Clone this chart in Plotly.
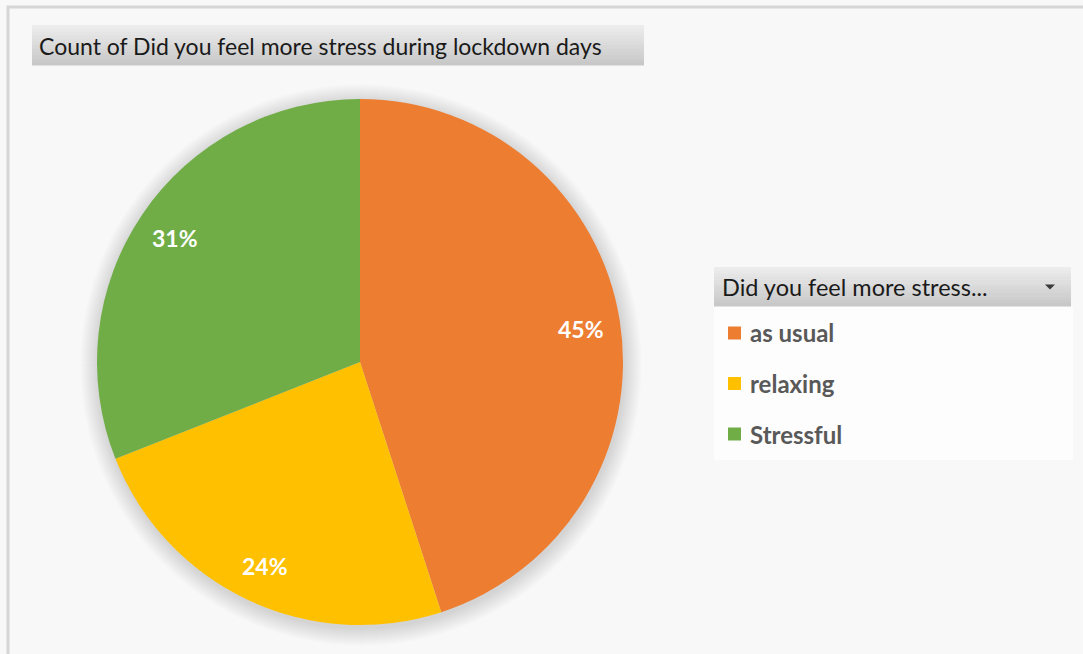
import math
import plotly.graph_objects as go

W, H = 1083, 654

# Data
categories = ["as usual", "relaxing", "Stressful"]
shares = [45, 24, 31]
colors = ["#ED7D31", "#FFC000", "#70AD47"]
chart_title = "Count of Did you feel more stress during lockdown days"
legend_title = "Did you feel more stress..."


def px(x):
    return x / W


def py(y):
    return 1 - y / H


# pie geometry in pixels
cx, cy, R = 360, 362, 263

fig = go.Figure()
fig.add_trace(go.Pie(
    labels=categories,
    values=shares,
    sort=False,
    direction="clockwise",
    rotation=0,
    marker=dict(colors=colors, line=dict(width=0)),
    textinfo="none",
    hoverinfo="label+percent",
    showlegend=False,
    domain=dict(x=[px(cx - R), px(cx + R)], y=[py(cy + R), py(cy - R)]),
))

shapes = []
annotations = []

# outer frame
shapes.append(dict(type="rect", xref="paper", yref="paper",
                   x0=px(8), x1=px(W + 5), y0=py(H + 5), y1=py(7),
                   line=dict(color="#d6d6d6", width=3), fillcolor="rgba(0,0,0,0)",
                   layer="below"))

# soft shadow around the pie
for i in range(18, 0, -1):
    r = R + i
    shapes.append(dict(type="circle", xref="paper", yref="paper",
                       x0=px(cx - r + 1), x1=px(cx + r + 1),
                       y0=py(cy + r + 3), y1=py(cy - r + 3),
                       line=dict(width=0), fillcolor="rgba(0,0,0,0.009)",
                       layer="below"))


def gradient_box(x0, x1, y0, y1, top, bottom, steps=12):
    out = []
    h = (y1 - y0) / steps
    for k in range(steps):
        t = k / (steps - 1)
        c = tuple(round(top[j] + (bottom[j] - top[j]) * t) for j in range(3))
        out.append(dict(type="rect", xref="paper", yref="paper",
                        x0=px(x0), x1=px(x1),
                        y0=py(y0 + h * (k + 1) + 0.5), y1=py(y0 + h * k),
                        line=dict(width=0), fillcolor="rgb(%d,%d,%d)" % c,
                        layer="below"))
    return out


# title bar
shapes += gradient_box(32, 644, 25, 65, (236, 236, 236), (200, 200, 200))
annotations.append(dict(text=chart_title, xref="paper", yref="paper",
                        x=px(37), y=py(46), xanchor="left", yanchor="middle",
                        showarrow=False,
                        font=dict(family="Lato", size=23, color="#1a1a1a")))

# legend panel
lx0, lx1 = 714, 1071
shapes.append(dict(type="rect", xref="paper", yref="paper",
                   x0=px(lx0), x1=px(lx1 + 2), y0=py(460), y1=py(306),
                   line=dict(width=0), fillcolor="#fdfdfd", layer="below"))
shapes += gradient_box(lx0, lx1, 267, 306, (236, 236, 236), (200, 200, 200))
annotations.append(dict(text=legend_title, xref="paper", yref="paper",
                        x=px(720), y=py(287), xanchor="left", yanchor="middle",
                        showarrow=False,
                        font=dict(family="Lato", size=23.5, color="#1a1a1a")))
# dropdown arrow
tx, ty = 1050, 287
shapes.append(dict(type="path", xref="paper", yref="paper",
                   path="M %f %f L %f %f L %f %f Z" % (px(tx - 5), py(ty - 2.5),
                                                        px(tx + 5), py(ty - 2.5),
                                                        px(tx), py(ty + 2.5)),
                   fillcolor="#3a3a3a", line=dict(width=0)))

for i, (name, col) in enumerate(zip(categories, colors)):
    yc = 333 + 50.5 * i
    shapes.append(dict(type="rect", xref="paper", yref="paper",
                       x0=px(728), x1=px(741), y0=py(yc + 6.5), y1=py(yc - 6.5),
                       line=dict(width=0), fillcolor=col))
    annotations.append(dict(text="<b>%s</b>" % name, xref="paper", yref="paper",
                            x=px(748), y=py(yc), xanchor="left", yanchor="middle",
                            showarrow=False,
                            font=dict(family="Lato", size=24, color="#595959")))

# percentage labels inside the slices
total = sum(shares)
cum = 0
for v in shares:
    mid = (cum + v / 2) / total * 2 * math.pi
    cum += v
    lx = cx + 0.85 * R * math.sin(mid)
    ly = cy - 0.85 * R * math.cos(mid)
    annotations.append(dict(text="<b>%d%%</b>" % round(v / total * 100),
                            xref="paper", yref="paper",
                            x=px(lx), y=py(ly + 2), xanchor="center", yanchor="middle",
                            showarrow=False,
                            font=dict(family="Lato", size=23, color="white")))

fig.update_layout(
    width=W, height=H,
    margin=dict(l=0, r=0, t=0, b=0),
    paper_bgcolor="#f8f8f8",
    plot_bgcolor="#f8f8f8",
    shapes=shapes,
    annotations=annotations,
    showlegend=False,
)

fig.write_html("out.html")
